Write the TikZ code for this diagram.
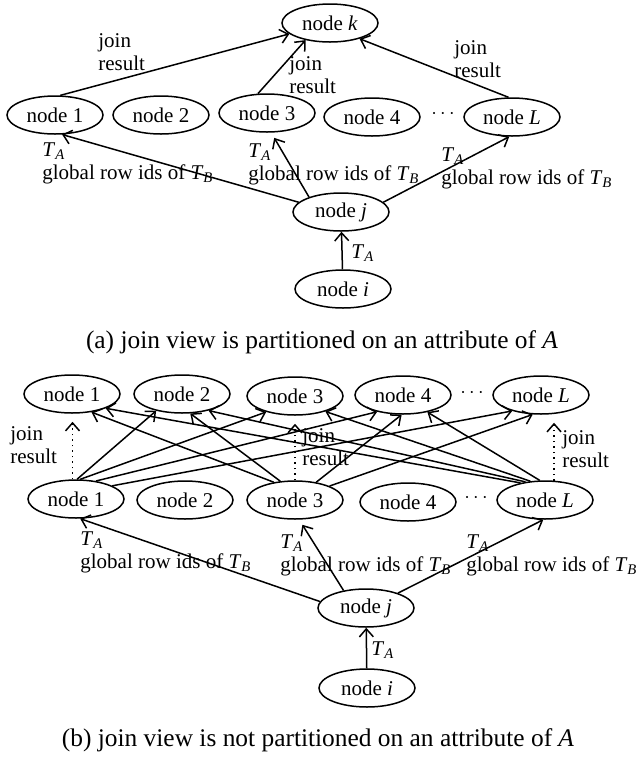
\documentclass[tikz,border=0pt]{standalone}
\usepackage{fontspec}
\setmainfont{Liberation Serif}
\usetikzlibrary{shapes.geometric,arrows.meta}
\newcommand{\TA}{\textit{T}\textsubscript{\textit{A}}}
\newcommand{\TB}{\textit{T}\textsubscript{\textit{B}}}

\begin{document}
\begin{tikzpicture}[
    x=0.5pt, y=-0.5pt,
    pnode/.style={ellipse, draw, line width=0.75pt, minimum width=48pt, minimum height=19pt, inner sep=0pt, font=\fontsize{10.5}{11.5}\selectfont},
    lbl/.style={align=left, anchor=west, inner sep=0pt, font=\fontsize{10.5}{11.5}\selectfont},
    captext/.style={inner sep=0pt, font=\fontsize{12.7}{15}\selectfont},
    line/.style={draw, line width=0.75pt, -{Straight Barb[length=4pt,width=7pt]}},
    dline/.style={line, dotted, shorten >=4pt}
]
\useasboundingbox (0,0) rectangle (636,757);

% (a)
\node [pnode] (k) at (330,23) {node \textit{k}};
\node [pnode] (a1) at (55,115) {node 1};
\node [pnode] (a2) at (161,115) {node 2};
\node [pnode] (a3) at (267,113) {node 3};
\node [pnode] (a4) at (372,117) {node 4};
\node (adots) at (443,114) {$\cdots$};
\node [pnode] (aL) at (512,117) {node \textit{L}};
\node [pnode] (aj) at (341,212) {node \textit{j}};
\node [pnode] (ai) at (343,289) {node \textit{i}};

\path [line] (a1.75) -- (k.195);
\path [line] (a3.115) -- (k.215);
\path [line] (aL.100) -- (k.332);
\path [line] (aj.167) -- (a1.290);
\path [line, shorten >=3pt] (aj.155) -- (a3.282);
\path [line] (aj.13) -- (aL.262);
\path [line] (ai) -- (aj);

\node [lbl] (jra1) at (98,52) {join\\result};
\node [lbl] (jra3) at (289,75) {join\\result};
\node [lbl] (jraL) at (454,59) {join\\result};
\node [lbl] (ga1) at (42,163) {\TA\\global row ids of \TB};
\node [lbl] (ga3) at (248,164) {\TA\\global row ids of \TB};
\node [lbl] (gaL) at (441,168) {\TA\\global row ids of \TB};
\node [lbl] (tai) at (351,253) {\TA};
\node [captext] (capa) at (322,342) {(a) join view is partitioned on an attribute of \textit{A}};

% (b)
\node [pnode] (t1) at (72,394) {node 1};
\node [pnode] (t2) at (182,394) {node 2};
\node [pnode] (t3) at (295,396) {node 3};
\node [pnode] (t4) at (403,395) {node 4};
\node (tdots) at (472,393) {$\cdots$};
\node [pnode] (tL) at (541,395) {node \textit{L}};
\node [pnode] (b1) at (76,499) {node 1};
\node [pnode] (b2) at (185,500) {node 2};
\node [pnode] (b3) at (295,500) {node 3};
\node [pnode] (b4) at (408,502) {node 4};
\node (bdots) at (476,498) {$\cdots$};
\node [pnode] (bL) at (545,500) {node \textit{L}};
\node [pnode] (bj) at (366,608) {node \textit{j}};
\node [pnode] (bi) at (367,688) {node \textit{i}};

\path [line] (b1.87) -- (t2.213);
\path [line] (b1.78) -- (t3.209);
\path [line] (b1.42) -- (t4.213);
\path [line] (b1.20) -- (tL.209);
\path [line] (b3.140) -- (t1.317);
\path [line] (b3.128) -- (t2.293);
\path [line] (b3.40) -- (t4.266);
\path [line] (b3.22) -- (tL.247);
\path [line] (bL.145) -- (t1.337);
\path [line] (bL.137) -- (t2.328);
\path [line] (bL.128) -- (t3.333);
\path [line] (bL.105) -- (t4.325);
\path [dline] (b1.100) -- (b1.100 |- t1.south);
\path [dline] (b3.north) -- (b3.north |- t3.south);
\path [dline] (bL.65) -- (bL.65 |- tL.south);
\path [line] (bj.172) -- (b1.282);
\path [line, shorten >=3pt] (bj.142) -- (b3.282);
\path [line] (bj.25) -- (bL.265);
\path [line] (bi) -- (bj);

\node [lbl] (jrb1) at (10,445) {join\\result};
\node [lbl] (jrb3) at (302,447) {join\\result};
\node [lbl] (jrbL) at (562,449) {join\\result};
\node [lbl] (gb1) at (80,552) {\TA\\global row ids of \TB};
\node [lbl] (gb3) at (280,555) {\TA\\global row ids of \TB};
\node [lbl] (gbL) at (466,555) {\TA\\global row ids of \TB};
\node [lbl] (tbi) at (371,650) {\TA};
\node [captext] (capb) at (318,740) {(b) join view is not partitioned on an attribute of \textit{A}};
\end{tikzpicture}
\end{document}
